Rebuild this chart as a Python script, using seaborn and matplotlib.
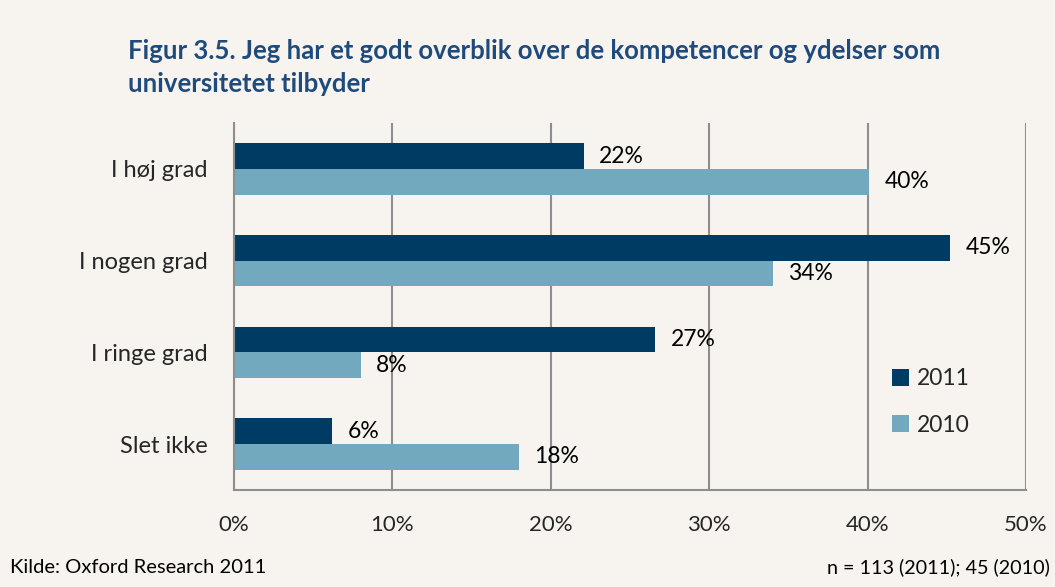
import pandas as pd
import matplotlib.pyplot as plt
import seaborn as sns

categories = ["I høj grad", "I nogen grad", "I ringe grad", "Slet ikke"]
years = ["2011", "2010"]
values_2011 = [22.1, 45.2, 26.6, 6.2]
values_2010 = [40.1, 34.0, 8.0, 18.0]
x_ticks = [0, 10, 20, 30, 40, 50]

df = pd.DataFrame({
    "kategori": categories * 2,
    "aar": [years[0]] * 4 + [years[1]] * 4,
    "andel": values_2011 + values_2010,
})

bg = "#F7F3EE"
dark = "#003B63"
light = "#72A9BF"
grid = "#8E8E8E"

sns.set_theme(style="white")
plt.rcParams["font.family"] = ["Lato", "DejaVu Sans"]

fig = plt.figure(figsize=(10.55, 5.87), dpi=100, facecolor=bg)
ax = fig.add_axes([234 / 1055, 1 - 490 / 587, 792 / 1055, 367 / 587])
ax.set_facecolor(bg)

sns.barplot(
    data=df, y="kategori", x="andel", hue="aar", orient="h",
    palette=[dark, light], width=0.56, ax=ax, saturation=1,
    edgecolor="none", errorbar=None,
)

for cont in ax.containers:
    ax.bar_label(cont, labels=[f"{v:.0f}%" for v in cont.datavalues],
                 padding=11, fontsize=16.5, color="black")

ax.set_xlim(0, 50)
ax.set_ylim(3.5, -0.5)
ax.set_xticks(x_ticks)
ax.set_xticklabels([f"{t}%" for t in x_ticks], fontsize=16)
ax.set_xlabel("")
ax.set_ylabel("")
ax.tick_params(axis="y", which="major", length=0, labelsize=17, pad=19)
ax.set_yticks([-0.5, 0.5, 1.5, 2.5, 3.5], minor=True)
ax.tick_params(axis="y", which="minor", length=6, color=grid, width=1.5, direction="out")
ax.tick_params(axis="x", which="major", length=6, color=grid, width=1.5, direction="out", pad=12)
ax.grid(axis="x", color=grid, linewidth=1.5)
for cont in ax.containers:
    for bar in cont:
        bar.set_zorder(3)
for side in ["top", "right"]:
    ax.spines[side].set_visible(False)
for side in ["left", "bottom"]:
    ax.spines[side].set_color(grid)
    ax.spines[side].set_linewidth(1.5)
    ax.spines[side].set_zorder(4)

ax.legend(
    title=None, frameon=False, fontsize=16.5, loc="center left",
    bbox_to_anchor=(871 / 1055, 1 - 402 / 587), bbox_transform=fig.transFigure,
    handlelength=0.75, handleheight=0.75, handletextpad=0.35, labelspacing=1.1,
)

fig.text(128 / 1055, 1 - 39 / 587,
         "Figur 3.5. Jeg har et godt overblik over de kompetencer og ydelser som\nuniversitetet tilbyder",
         fontsize=18.5, fontweight="bold", color="#1F4A7C", va="top", ha="left",
         linespacing=1.45)
fig.text(10 / 1055, 1 - 573 / 587, "Kilde: Oxford Research 2011",
         fontsize=14.5, va="baseline", ha="left", color="black")
fig.text(1050 / 1055, 1 - 573 / 587, "n = 113 (2011); 45 (2010)",
         fontsize=14.2, va="baseline", ha="right", color="black")

fig.savefig("out.png", dpi=100, facecolor=bg)
